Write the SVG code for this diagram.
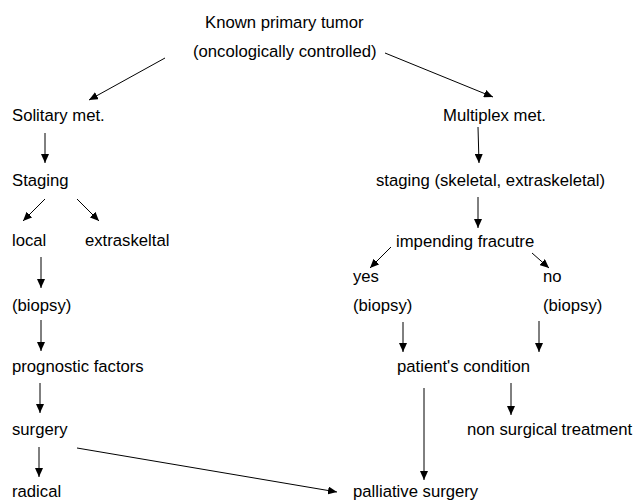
<svg xmlns="http://www.w3.org/2000/svg" width="633" height="500" viewBox="0 0 633 500">
<defs>
<style>
text{font-family:"Liberation Sans",Arial,sans-serif;font-size:16.7px;fill:#000}
.c line{stroke:#000;stroke-width:1;fill:none}
.a{marker-end:url(#ah)}
</style>
<marker id="ah" markerUnits="userSpaceOnUse" markerWidth="10" markerHeight="8" refX="9" refY="4" orient="auto">
<path d="M0,0 L9,4 L0,8 Z" fill="#000"/>
</marker>
</defs>
<rect width="633" height="500" fill="#fff"/>
<g class="c" id="connectors">
<line class="a" x1="165" y1="58" x2="89" y2="100"/>
<line class="a" x1="385" y1="53" x2="493" y2="97"/>
<line class="a" x1="45" y1="133" x2="45" y2="163"/>
<line class="a" x1="478" y1="127" x2="479" y2="163"/>
<line class="a" x1="45" y1="199" x2="23" y2="221"/>
<line class="a" x1="77" y1="199" x2="99" y2="221"/>
<line class="a" x1="41" y1="257" x2="41" y2="288"/>
<line class="a" x1="41" y1="320" x2="41" y2="351"/>
<line class="a" x1="40" y1="383" x2="40" y2="413"/>
<line class="a" x1="39" y1="447" x2="39" y2="477"/>
<line class="a" x1="77" y1="448" x2="337" y2="492"/>
<line class="a" x1="478" y1="197" x2="478" y2="228"/>
<line class="a" x1="391" y1="247" x2="370" y2="268"/>
<line class="a" x1="532" y1="253" x2="549" y2="268"/>
<line class="a" x1="403" y1="322" x2="403" y2="352"/>
<line class="a" x1="539" y1="321" x2="539" y2="352"/>
<line class="a" x1="424" y1="388" x2="424" y2="480"/>
<line class="a" x1="511" y1="383" x2="511" y2="415"/>
</g>
<g id="n-known"><text x="205" y="28">Known primary tumor</text></g>
<g id="n-onco"><text x="193" y="57">(oncologically controlled)</text></g>
<g id="n-solitary"><text x="12" y="121">Solitary met.</text></g>
<g id="n-multiplex"><text x="443" y="121">Multiplex met.</text></g>
<g id="n-staging"><text x="12" y="186">Staging</text></g>
<g id="n-staging2"><text x="376" y="186">staging (skeletal, extraskeletal)</text></g>
<g id="n-local"><text x="12" y="246">local</text></g>
<g id="n-extra"><text x="85" y="246">extraskeltal</text></g>
<g id="n-impending"><text x="396" y="247">impending fracutre</text></g>
<g id="n-yes"><text x="353" y="282">yes</text></g>
<g id="n-no"><text x="543" y="282">no</text></g>
<g id="n-biopsy1"><text x="12" y="311">(biopsy)</text></g>
<g id="n-biopsy2"><text x="353" y="311">(biopsy)</text></g>
<g id="n-biopsy3"><text x="543" y="311">(biopsy)</text></g>
<g id="n-prognostic"><text x="12" y="372">prognostic factors</text></g>
<g id="n-patient"><text x="397" y="372">patient's condition</text></g>
<g id="n-surgery"><text x="12" y="435">surgery</text></g>
<g id="n-nonsurg"><text x="467" y="435">non surgical treatment</text></g>
<g id="n-radical"><text x="12" y="497">radical</text></g>
<g id="n-palliative"><text x="353" y="497">palliative surgery</text></g>
</svg>
